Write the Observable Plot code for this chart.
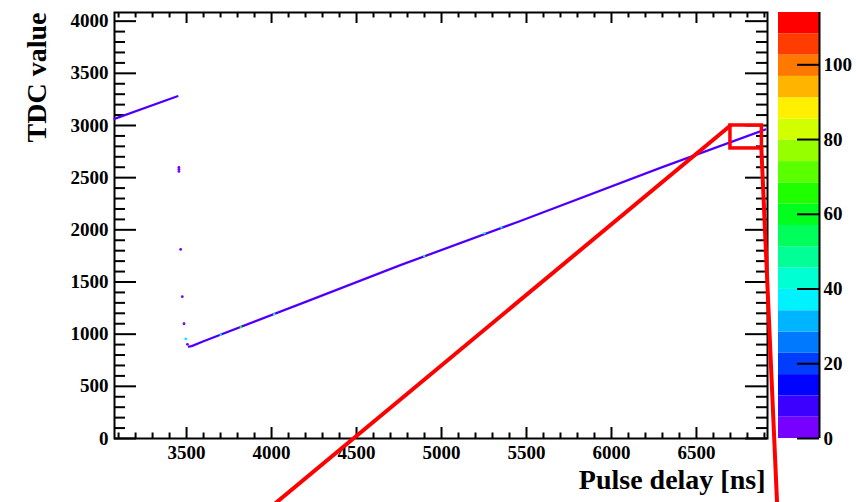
<!DOCTYPE html>
<html><head><meta charset="utf-8">
<script src="https://cdn.jsdelivr.net/npm/d3@7"></script>
<script src="https://cdn.jsdelivr.net/npm/@observablehq/plot@0.6"></script>
<style>
body{margin:0;background:#fff;}
#wrap{position:relative;width:856px;height:502px;overflow:hidden;background:#fff;}
#wrap svg{position:absolute;top:0;}
</style></head><body><div id="wrap"></div>
<script>
// ---- data ----
const upperX = [3076, 3446];
const upperY = [3064, 3280];
const mainX = [3514, 3530, 3600, 4212, 4762, 5460, 6295, 6905];
const mainY = [880, 886, 932, 1316, 1664, 2082, 2598, 2962];
const isoX = [3455, 3455, 3455, 3465, 3475, 3485, 3495, 3505];
const isoY = [2560, 2580, 2598, 1812, 1359, 1100, 954, 903];
const isoCount = [5, 5, 5, 5, 5, 4, 35, 5];
const speckX = [3701, 3819, 4016, 4898, 5252, 5352];
const speckY = [995, 1069, 1192, 1748, 1967, 2025];
const speckCount = [38, 60, 40, 55, 40, 35];
const baseCount = 4, coreCount = 16;
const paletteColors = ["#7700ff","#3b00ff","#0004ff","#003dff","#0079ff","#00b5ff","#00f1ff","#00ffd2","#00ff96","#00ff5a",
  "#00ff1e","#1eff00","#5aff00","#96ff00","#d2ff00","#fff000","#ffb400","#ff7800","#ff3c00","#ff0000"];
const zMax = 114;
const cbTicks = [0, 20, 40, 60, 80, 100];
const xMajor = [3500, 4000, 4500, 5000, 5500, 6000, 6500];
const xMinor = [3100,3200,3300,3400,3600,3700,3800,3900,4100,4200,4300,4400,4600,4700,4800,4900,5100,5200,5300,5400,
  5600,5700,5800,5900,6100,6200,6300,6400,6600,6700,6800,6900];
const yMajor = [0, 500, 1000, 1500, 2000, 2500, 3000, 3500, 4000];
const yMinor = [100,200,300,400,600,700,800,900,1100,1200,1300,1400,1600,1700,1800,1900,2100,2200,2300,2400,
  2600,2700,2800,2900,3100,3200,3300,3400,3600,3700,3800,3900];
const zoomBoxX = [6700, 6885], zoomBoxY = [2780, 3000];
const leaderLeftX = [6700, 3978], leaderLeftY = [3000, -681];
const leaderRightX = [6882, 6976], leaderRightY = [2780, -681];
const xTitle = "Pulse delay [ns]", yTitle = "TDC value";

// ---- build ----
const nLevels = paletteColors.length;
const levels = d3.range(1, nLevels).map(k => k * zMax / nLevels);
const colorScale = {type: "threshold", domain: levels, range: paletteColors};
const W = 856, H = 502, mL = 114, mR = 89, mT = 12, mB = 64;
const fw = W - mL - mR, fh = H - mT - mB;
const font = {fontFamily: "'Liberation Serif', 'Times New Roman', serif", fontWeight: "bold", fontSize: "19px", background: "transparent", color: "black"};

const upper = upperX.map((x, i) => ({x, y: upperY[i], c: baseCount}));
const upperCore = upperX.map((x, i) => ({x, y: upperY[i], c: coreCount}));
const main = mainX.map((x, i) => ({x, y: mainY[i], c: baseCount}));
const mainCore = mainX.map((x, i) => ({x, y: mainY[i], c: coreCount}));
const iso = isoX.map((x, i) => ({x, y: isoY[i], c: isoCount[i]}));
const specks = speckX.map((x, i) => ({x, y: speckY[i], c: speckCount[i]}));
const box = [{x1: zoomBoxX[0], x2: zoomBoxX[1], y1: zoomBoxY[0], y2: zoomBoxY[1]}];
const leadL = leaderLeftX.map((x, i) => ({x, y: leaderLeftY[i]}));
const leadR = leaderRightX.map((x, i) => ({x, y: leaderRightY[i]}));
const tk = {stroke: "black", strokeWidth: 2};

const chart = Plot.plot({
  width: W, height: H, marginLeft: mL, marginRight: mR, marginTop: mT, marginBottom: mB,
  style: font,
  x: {domain: [3076, 6918]},
  y: {domain: [0, 4083]},
  color: colorScale,
  marks: [
    Plot.ruleX(xMinor, {...tk, insetTop: fh - 5.5}),
    Plot.ruleX(xMajor, {...tk, insetTop: fh - 11}),
    Plot.ruleX(xMinor, {...tk, insetBottom: fh - 5.5}),
    Plot.ruleX(xMajor, {...tk, insetBottom: fh - 11}),
    Plot.ruleY(yMinor, {...tk, insetRight: fw - 11}),
    Plot.ruleY(yMajor, {...tk, insetRight: fw - 22}),
    Plot.ruleY(yMinor, {...tk, insetLeft: fw - 11}),
    Plot.ruleY(yMajor, {...tk, insetLeft: fw - 22}),
    Plot.frame({stroke: "black", strokeWidth: 2}),
    Plot.axisX({ticks: xMajor, tickSize: 0, tickPadding: 7, tickFormat: d => String(d), label: null, fontSize: 19, fontWeight: "bold"}),
    Plot.axisY({ticks: yMajor, tickSize: 0, tickPadding: 6, tickFormat: d => String(d), label: null, fontSize: 19, fontWeight: "bold"}),
    Plot.line(upper, {x: "x", y: "y", stroke: "c", strokeWidth: 2.3}),
    Plot.line(upperCore, {x: "x", y: "y", stroke: "c", strokeWidth: 0.9, strokeOpacity: 0.8}),
    Plot.line(main, {x: "x", y: "y", stroke: "c", strokeWidth: 2.3}),
    Plot.line(mainCore, {x: "x", y: "y", stroke: "c", strokeWidth: 0.9, strokeOpacity: 0.8}),
    Plot.dot(iso, {x: "x", y: "y", fill: "c", r: 1.4}),
    Plot.dot(specks, {x: "x", y: "y", fill: "c", r: 1.2}),
    Plot.text([yTitle], {text: d => d, frameAnchor: "top-left", dx: -88, rotate: -90, textAnchor: "end", fontSize: 28, fontWeight: "bold"}),
    Plot.text([xTitle], {text: d => d, frameAnchor: "bottom-right", dx: -2, dy: 50, textAnchor: "end", fontSize: 28, fontWeight: "bold"}),
    Plot.rect(box, {x1: "x1", x2: "x2", y1: "y1", y2: "y2", fill: "none", stroke: "#ff0000", strokeWidth: 3.5}),
    Plot.line(leadL, {x: "x", y: "y", stroke: "#ff0000", strokeWidth: 4}),
    Plot.line(leadR, {x: "x", y: "y", stroke: "#ff0000", strokeWidth: 4})
  ]
});

const bands = d3.range(nLevels).map(k => ({lo: k * zMax / nLevels, hi: (k + 1) * zMax / nLevels, mid: (k + 0.5) * zMax / nLevels}));
const cbW = 78, cbR = 37;
const colorbar = Plot.plot({
  width: cbW, height: H, marginLeft: 0, marginRight: cbR, marginTop: mT, marginBottom: mB,
  style: font,
  x: {domain: [0, 1], axis: null},
  y: {domain: [0, zMax], axis: null},
  color: colorScale,
  marks: [
    Plot.rect(bands, {x1: () => 0, x2: () => 1, y1: "lo", y2: "hi", fill: "mid"}),
    Plot.ruleX([1], {stroke: "black", strokeWidth: 2}),
    Plot.ruleY(cbTicks, {stroke: "black", strokeWidth: 2, insetLeft: (cbW - cbR) - 22}),
    Plot.axisY({anchor: "right", ticks: cbTicks, tickSize: 0, tickPadding: 4, tickFormat: d => String(d), label: null, fontSize: 19, fontWeight: "bold"})
  ]
});
colorbar.style.left = "778px";
chart.style.left = "0px";
const wrap = document.getElementById("wrap");
wrap.appendChild(colorbar);
wrap.appendChild(chart);
</script></body></html>
